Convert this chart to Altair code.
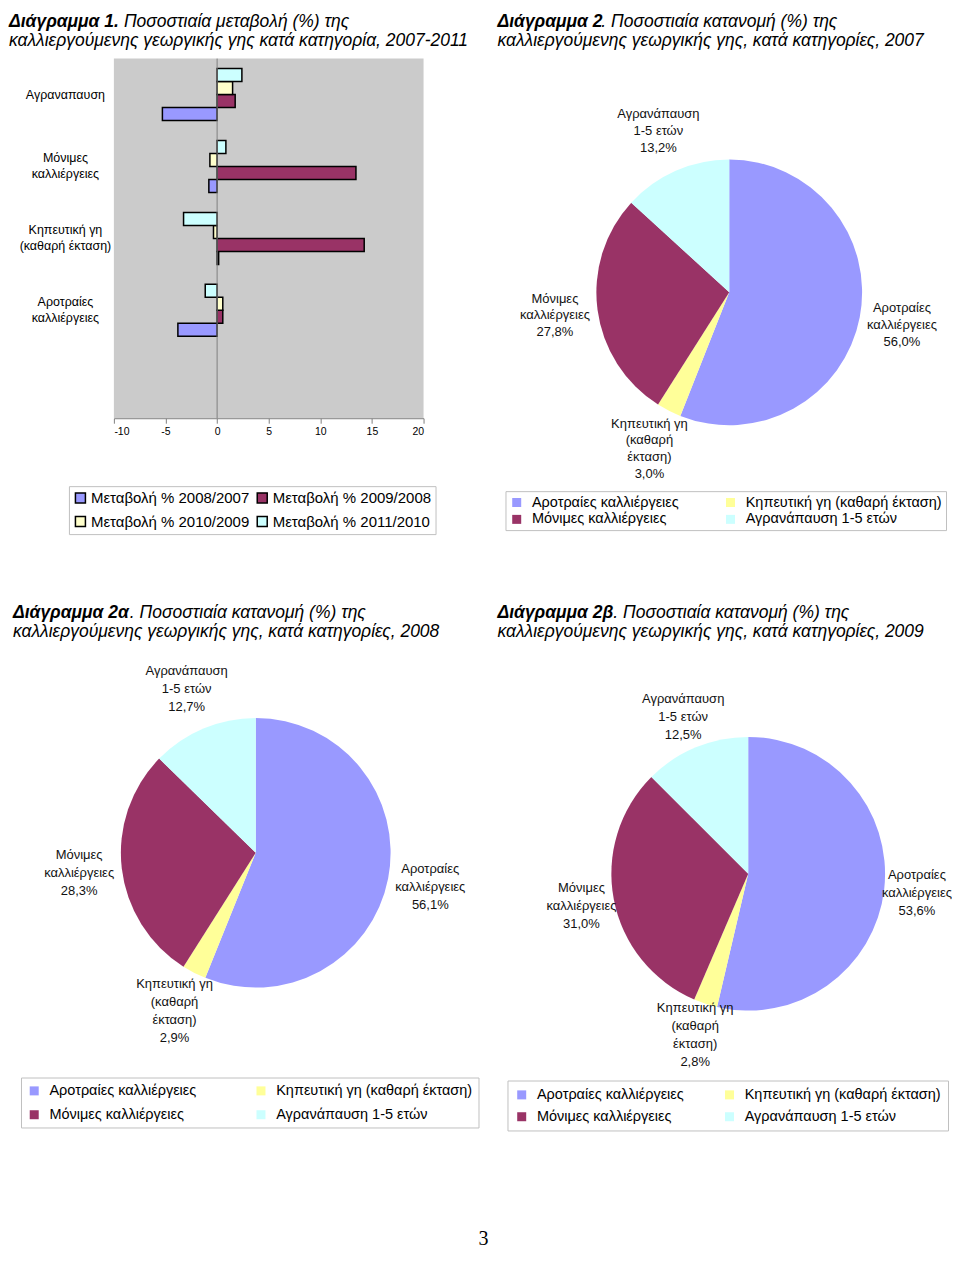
import altair as alt
import pandas as pd

FONT = "Liberation Sans"

# ---------------- data ----------------
bar_categories = ["Αγραναπαυση", "Μόνιμες\nκαλλιέργειες", "Κηπευτική γη\n(καθαρή έκταση)",
                  "Αροτραίες\nκαλλιέργειες", ""]
bar_series = ["Μεταβολή % 2008/2007", "Μεταβολή % 2009/2008",
              "Μεταβολή % 2010/2009", "Μεταβολή % 2011/2010"]
change_2008_2007 = [-5.3, -0.8, 0.15, -3.8]
change_2009_2008 = [1.75, 13.45, 14.25, 0.55]
change_2010_2009 = [1.5, -0.7, -0.35, 0.55]
change_2011_2010 = [2.4, 0.85, -3.25, -1.15]
x_ticks = [-10, -5, 0, 5, 10, 15, 20]
bar_colors = ["#9999FF", "#993366", "#FFFFCC", "#CCFFFF"]

pie_categories = ["Αροτραίες καλλιέργειες", "Κηπευτική γη (καθαρή έκταση)",
                  "Μόνιμες καλλιέργειες", "Αγρανάπαυση 1-5 ετών"]
pie_labels = ["Αροτραίες\nκαλλιέργειες", "Κηπευτική γη\n(καθαρή\nέκταση)",
              "Μόνιμες\nκαλλιέργειες", "Αγρανάπαυση\n1-5 ετών"]
share_2007 = [56.0, 3.0, 27.8, 13.2]
share_2008 = [56.1, 2.9, 28.3, 12.7]
share_2009 = [53.6, 2.8, 31.0, 12.5]
pie_colors = ["#9999FF", "#FFFF99", "#993366", "#CCFFFF"]

# ---------------- helpers ----------------
def title_layers(bold, rest, line2, x0, x_rest, y1, y2):
    style = dict(align="left", baseline="alphabetic", font=FONT, fontSize=17.5,
                 fontStyle="italic", color="black")
    a = alt.Chart(pd.DataFrame({"t": [bold]})).mark_text(fontWeight="bold", **style).encode(
        text="t:N", x=alt.value(x0), y=alt.value(y1))
    b = alt.Chart(pd.DataFrame({"t": [rest]})).mark_text(**style).encode(
        text="t:N", x=alt.value(x_rest), y=alt.value(y1))
    c = alt.Chart(pd.DataFrame({"t": [line2]})).mark_text(**style).encode(
        text="t:N", x=alt.value(x0), y=alt.value(y2))
    return [a, b, c]


# ---------------- bar chart (Διάγραμμα 1) ----------------
bar_rows = []
for s, vals in zip(bar_series, [change_2008_2007, change_2009_2008, change_2010_2009, change_2011_2010]):
    for c, v in zip(bar_categories[:4], vals):
        bar_rows.append({"cat": c, "series": s, "value": v})
bar_df = pd.DataFrame(bar_rows)

W_BAR, H_BAR = 310, 360
bars = alt.Chart(bar_df).mark_bar(stroke="black", strokeWidth=1.5).encode(
    x=alt.X("value:Q", scale=alt.Scale(domain=[x_ticks[0], x_ticks[-1]], nice=False),
            axis=alt.Axis(title=None, values=x_ticks, grid=False, domainColor="#808080",
                          tickColor="#808080", tickSize=5, labelPadding=3, labelFontSize=10.5,
                          labelFont=FONT, labelColor="black", labelExpr="'' + datum.value")),
    y=alt.Y("cat:N", sort=bar_categories,
            scale=alt.Scale(domain=bar_categories, paddingInner=0, paddingOuter=0),
            axis=alt.Axis(title=None, domain=False, ticks=False, tickSize=0, labelAlign="center",
                          labelBaseline="middle", labelPadding=49, labelFontSize=12.5,
                          labelFont=FONT, labelColor="black", labelLineHeight=16,
                          labelOffset={"condition": {"test": "indexof(datum.value, '\\n') >= 0",
                                                     "value": -8}, "value": 0},
                          labelExpr="split(datum.label, '\\n')", labelLimit=0)),
    yOffset=alt.YOffset("series:N", sort=bar_series[::-1],
                        scale=alt.Scale(domain=bar_series[::-1], paddingInner=0, paddingOuter=0.77)),
    color=alt.Color("series:N", sort=bar_series,
                    scale=alt.Scale(domain=bar_series, range=bar_colors),
                    legend=alt.Legend(title=None, orient="none", legendX=-45, legendY=428,
                                      direction="horizontal", columns=2, symbolType="square",
                                      symbolSize=100, symbolStrokeColor="black",
                                      symbolStrokeWidth=1.5, symbolOpacity=1, labelFontSize=15,
                                      labelFont=FONT, labelColor="black", labelOffset=3,
                                      columnPadding=4, rowPadding=7, padding=4,
                                      strokeColor="#c0c0c0", labelLimit=0)),
)
zero_line = alt.Chart(pd.DataFrame({"z": [0]})).mark_rule(color="#808080", strokeWidth=1).encode(
    x=alt.datum(0))

bar_panel = alt.layer(
    bars, zero_line,
    *title_layers("Διάγραμμα 1.", "Ποσοστιαία μεταβολή (%) της",
                  "καλλιεργούμενης γεωργικής γης κατά κατηγορία, 2007-2011",
                  -105, 10, -32, -13),
).properties(width=W_BAR, height=H_BAR, view=alt.ViewBackground(fill="#CBCBCB", stroke=None))


# ---------------- pie charts ----------------
def pie_panel(shares, w, h, r, label_r, lh, titles, lx, ly, col_pad, row_pad, pad, extra=None):
    labels = [l + "\n" + ("%.1f" % s).replace(".", ",") + "%" for l, s in zip(pie_labels, shares)]
    df = pd.DataFrame({
        "cat": pie_categories,
        "k": list(range(len(pie_categories))),
        "v": shares,
        "label": labels,
        "n": [t.count("\n") + 1 for t in labels],
    })
    arcs = alt.Chart(df).mark_arc(outerRadius=r).encode(
        theta=alt.Theta("v:Q", stack=True),
        order=alt.Order("k:Q", sort="ascending"),
        color=alt.Color("cat:N", sort=pie_categories,
                        scale=alt.Scale(domain=pie_categories, range=pie_colors),
                        legend=alt.Legend(title=None, orient="none", legendX=lx, legendY=ly,
                                          direction="horizontal", columns=2, symbolType="square",
                                          symbolSize=81, symbolStrokeWidth=0, symbolOpacity=1,
                                          labelFontSize=14.5, labelFont=FONT, labelColor="black",
                                          labelOffset=8, columnPadding=col_pad, rowPadding=row_pad,
                                          padding=pad, strokeColor="#c0c0c0", labelLimit=0)))
    lab = alt.Chart(df).transform_window(
        cum="sum(v)", sort=[alt.SortField("k", order="ascending")], frame=[None, 0]
    ).transform_calculate(mid="datum.cum - datum.v / 2")
    text_layers = []
    for nlines in (3, 4):
        text_layers.append(
            lab.transform_filter("datum.n == %d" % nlines).mark_text(
                radius=label_r, lineBreak="\n", fontSize=13, lineHeight=lh, font=FONT,
                color="#111111", align="center", baseline="middle", dy=-(nlines - 1) * lh / 2
            ).encode(theta=alt.Theta("mid:Q", stack=None), text="label:N"))
    layers = [arcs] + text_layers + titles
    if extra is not None:
        layers.append(extra)
    return alt.layer(*layers).properties(width=w, height=h)


pie07 = pie_panel(share_2007, 258, 468, 133, 176, 17,
                  title_layers("Διάγραμμα 2", ". Ποσοστιαία κατανομή (%) της",
                               "καλλιεργούμενης γεωργικής γης, κατά κατηγορίες, 2007",
                               -103, 1, -32, -13),
                  -95, 433, 44, 2, 4)

page_number = alt.Chart(pd.DataFrame({"t": ["3"]})).mark_text(
    font="Liberation Serif", fontSize=20, color="black", align="center", baseline="alphabetic"
).encode(text="t:N", x=alt.value(370), y=alt.value(538))

pie08 = pie_panel(share_2008, 284, 290, 135, 178, 18,
                  title_layers("Διάγραμμα 2α", ". Ποσοστιαία κατανομή (%) της",
                               "καλλιεργούμενης γεωργικής γης, κατά κατηγορίες, 2008",
                               -101, 16, -90, -71),
                  -93, 370, 57, 9, 6, extra=page_number)

pie09 = pie_panel(share_2009, 296, 332, 137, 170, 18,
                  title_layers("Διάγραμμα 2β", ". Ποσοστιαία κατανομή (%) της",
                               "καλλιεργούμενης γεωργικής γης, κατά κατηγορίες, 2009",
                               -103, 13, -90, -71),
                  -93, 373, 38, 7, 7)

chart = alt.concat(
    bar_panel, pie07, pie08, pie09,
    columns=2, spacing={"row": 182, "column": 177}, bounds="flush", align="all",
).resolve_scale(
    color="independent", theta="independent", x="independent", y="independent"
).resolve_legend(color="independent").properties(
    padding={"top": 4, "left": 1, "right": 0, "bottom": 0}
).configure_view(stroke=None)

chart.save("out.html", embed_options={"renderer": "svg", "actions": False})
